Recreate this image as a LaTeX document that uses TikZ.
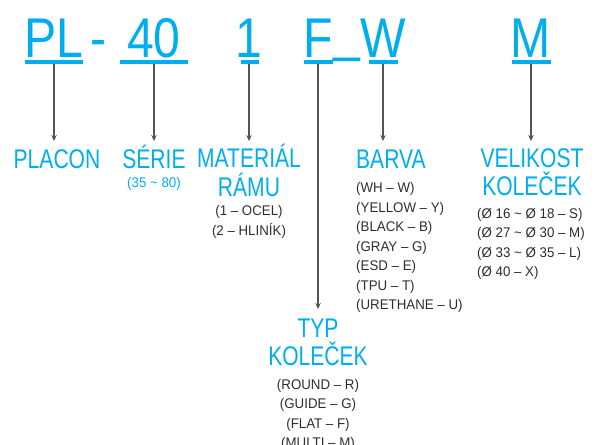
\documentclass[tikz,border=0pt]{standalone}
\usepackage{fontspec}
\usepackage{tikz}
\usetikzlibrary{arrows.meta, positioning, calc}
\setmainfont{Liberation Sans}
\newfontfamily\codefont[FakeStretch=0.86]{Liberation Sans}
\newfontfamily\lblfont[FakeStretch=0.78]{Liberation Sans}
\newfontfamily\subfont[FakeStretch=0.95]{Liberation Sans}
\definecolor{mycyan}{RGB}{0,174,239}
\definecolor{mydark}{RGB}{45,45,45}
\definecolor{myarrow}{RGB}{85,85,85}
\tikzset{
  codechar/.style={anchor=base, inner sep=0pt, text=mycyan,
    font=\codefont\fontsize{56}{56}\selectfont},
  uline/.style={draw=mycyan, line width=3.5pt},
  lbl/.style={anchor=base, inner sep=0pt, text=mycyan, align=center,
    font=\lblfont\fontsize{27}{28.5}\selectfont},
  sublist/.style={anchor=base, inner sep=0pt, text=mydark,
    font=\subfont\fontsize{14}{19.5}\selectfont},
  arrow/.style={-{Stealth[length=6pt, width=5.5pt]}, line width=1.2pt, color=myarrow}
}
\begin{document}
\begin{tikzpicture}[x=1pt, y=-1pt]
  \useasboundingbox (0,0) rectangle (598,445);

  % Code letters
  \node[codechar] (codePL) at (54,57) {PL};
  \node[codechar] (dash) at (99,57) {-};
  \node[codechar] (code40) at (154,57) {40};
  \node[codechar] (code1) at (249,57) {1};
  \node[codechar] (codeF) at (318,57) {F};
  \node[codechar, yshift=7pt] (uscore) at (347,57) {\_};
  \node[codechar] (codeW) at (383,57) {W};
  \node[codechar] (codeM) at (531,57) {M};

  % Underlines
  \draw[uline] (25,62) -- (83,62);
  \draw[uline] (120,62) -- (188,62);
  \draw[uline] (241,62) -- (259,62);
  \draw[uline] (304,62) -- (333,62);
  \draw[uline] (369,62) -- (398,62);
  \draw[uline] (512,62) -- (551,62);

  % Labels (multi-line nodes sit on their last line)
  \node[lbl] (placon) at (57,168) {PLACON};
  \node[lbl] (serie) at (154,168) {SÉRIE};
  \node[lbl] (serieRange) at (154,187) {\subfont\fontsize{14}{16}\selectfont (35 \textasciitilde{} 80)};
  \node[lbl] (material) at (249,196) {MATERIÁL\\RÁMU};
  \node[sublist, align=center] (materialList) at (249,235) {(1 – OCEL)\\(2 – HLINÍK)};
  \node[lbl, anchor=base west] (barva) at (356,168) {BARVA};
  \node[sublist, align=left, anchor=base west] (barvaList) at (356,309.5) {(WH – W)\\(YELLOW – Y)\\(BLACK – B)\\(GRAY – G)\\(ESD – E)\\(TPU – T)\\(URETHANE – U)};
  \node[lbl] (velikost) at (532,195.5) {VELIKOST\\KOLEČEK};
  \node[sublist, align=left, anchor=base west] (velikostList) at (477,276.5) {(Ø 16 \textasciitilde{} Ø 18 – S)\\(Ø 27 \textasciitilde{} Ø 30 – M)\\(Ø 33 \textasciitilde{} Ø 35 – L)\\(Ø 40 – X)};
  \node[lbl] (typ) at (318,365.5) {TYP\\KOLEČEK};
  \node[sublist, align=center] (typList) at (318,447.5) {(ROUND – R)\\(GUIDE – G)\\(FLAT – F)\\(MULTI – M)};

  % Arrow ends
  \coordinate (tipPL) at (54,141);
  \coordinate (tip40) at (154,141);
  \coordinate (tip1) at (249,141);
  \coordinate (tipF) at (318,309);
  \coordinate (tipW) at (383,141);
  \coordinate (tipM) at (531,141);

  % Arrows
  \draw[arrow] (codePL.base |- 0,64) -- (tipPL);
  \draw[arrow] (code40.base |- 0,64) -- (tip40);
  \draw[arrow] (code1.base |- 0,64) -- (tip1);
  \draw[arrow] (codeF.base |- 0,64) -- (tipF);
  \draw[arrow] (codeW.base |- 0,64) -- (tipW);
  \draw[arrow] (codeM.base |- 0,64) -- (tipM);
\end{tikzpicture}
\end{document}
